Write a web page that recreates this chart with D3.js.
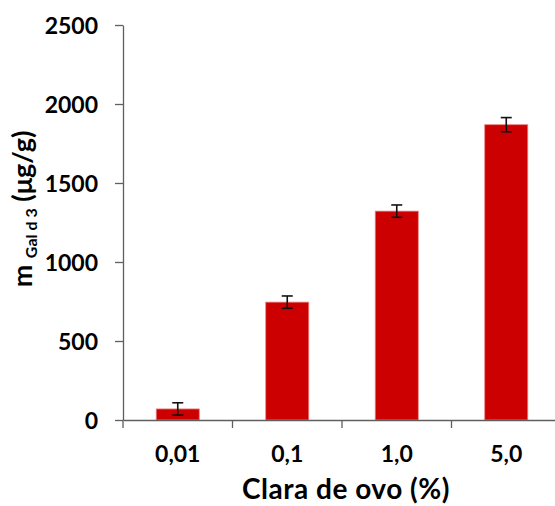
<!DOCTYPE html>
<html>
<head>
<meta charset="utf-8">
<script src="https://cdn.jsdelivr.net/npm/d3@7"></script>
<style>
  html, body { margin: 0; padding: 0; background: #fff; }
  svg { display: block; }
  text { font-family: Lato, "Open Sans", sans-serif; font-weight: bold; fill: #000; }
</style>
</head>
<body>
<svg id="chart" width="555" height="506"></svg>
<script>
// Egg white concentration (%) vs. Gal d 3 content
const categories = ["0,01", "0,1", "1,0", "5,0"];
const values = [70, 746, 1322, 1869];
const errors = [39, 39, 39, 45];
const yTicks = [0, 500, 1000, 1500, 2000, 2500];

const svg = d3.select("#chart");
const plotLeft = 123, plotRight = 561, plotTop = 25, plotBottom = 420;

const x = d3.scaleBand().domain(categories).range([plotLeft, plotRight]).padding(0);
const y = d3.scaleLinear().domain([0, 2500]).range([plotBottom, plotTop]);

const barFrac = 0.393;
const bw = x.bandwidth() * barFrac;
const axisColor = "#5f5f5f";

// bars
svg.append("g").selectAll("rect").data(categories).join("rect")
  .attr("x", (d) => x(d) + (x.bandwidth() - bw) / 2)
  .attr("y", (d, i) => y(values[i]))
  .attr("width", bw)
  .attr("height", (d, i) => y(0) - y(values[i]))
  .attr("fill", "#cc0000")
  .attr("stroke", "#e88080")
  .attr("stroke-width", 0.8);

// error bars
const eb = svg.append("g").attr("stroke", "#111").attr("stroke-width", 1.6);
categories.forEach((c, i) => {
  const cx = x(c) + x.bandwidth() / 2;
  const y1 = y(values[i] + errors[i]), y2 = y(values[i] - errors[i]);
  eb.append("line").attr("x1", cx).attr("x2", cx).attr("y1", y1).attr("y2", y2);
  eb.append("line").attr("x1", cx - 5.5).attr("x2", cx + 5.5).attr("y1", y1).attr("y2", y1);
  eb.append("line").attr("x1", cx - 5.5).attr("x2", cx + 5.5).attr("y1", y2).attr("y2", y2);
});

// y axis
const yAxis = svg.append("g").attr("transform", `translate(${plotLeft},0)`)
  .call(d3.axisLeft(y).tickValues(yTicks).tickFormat(d3.format("d"))
    .tickSize(8).tickPadding(17).tickSizeOuter(0));
yAxis.select(".domain").attr("stroke", axisColor).attr("stroke-width", 1.3);
yAxis.selectAll(".tick line").attr("stroke", axisColor).attr("stroke-width", 1.3);
yAxis.selectAll("text").attr("font-size", 23).attr("dy", "0.36em");

// x axis: labels centred on categories, ticks between categories
const xAxis = svg.append("g").attr("transform", `translate(0,${plotBottom})`)
  .call(d3.axisBottom(x).tickSize(0).tickSizeOuter(0));
xAxis.select(".domain").attr("stroke", axisColor).attr("stroke-width", 1.3);
xAxis.selectAll("text").attr("font-size", 23).attr("y", 42).attr("dy", 0);
const bounds = categories.map((c) => x(c)).concat([plotRight]);
svg.append("g").selectAll("line").data(bounds).join("line")
  .attr("x1", (d) => d).attr("x2", (d) => d)
  .attr("y1", plotBottom).attr("y2", plotBottom + 8)
  .attr("stroke", axisColor).attr("stroke-width", 1.3);

// axis titles
svg.append("text")
  .attr("x", 346).attr("y", 499)
  .attr("text-anchor", "middle").attr("font-size", 28)
  .attr("letter-spacing", 0.5)
  .text("Clara de ovo (%)");

const yt = svg.append("text")
  .attr("transform", "translate(32,209) rotate(-90)")
  .attr("text-anchor", "middle").attr("font-size", 27);
yt.append("tspan").text("m ");
yt.append("tspan").attr("font-size", 16).attr("dy", 5).text("Gal d 3");
yt.append("tspan").attr("dy", -5).text(" (μg/g)");
</script>
</body>
</html>
